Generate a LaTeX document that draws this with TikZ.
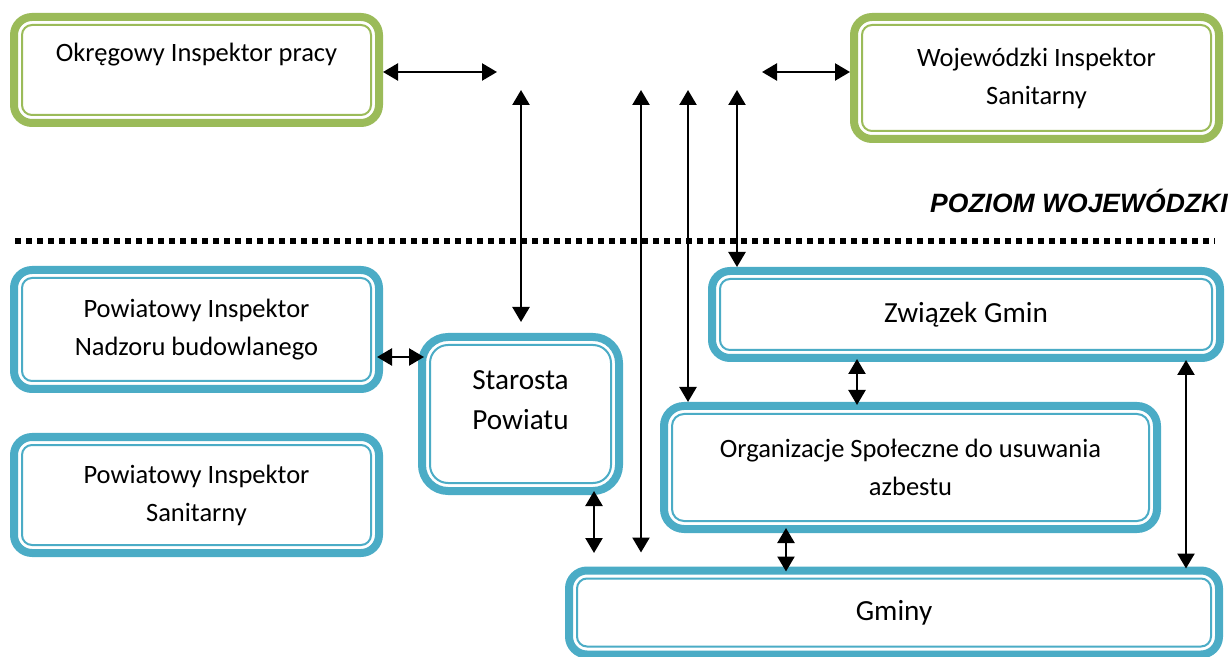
\documentclass[tikz,border=0pt]{standalone}
\usepackage{fontspec}
\setmainfont{Carlito}
\newfontfamily\headfont{Liberation Sans}
\usetikzlibrary{arrows.meta, calc, positioning}
\definecolor{level-green}{HTML}{9BBB59}
\definecolor{level-blue}{HTML}{4BACC6}
\tikzset{
    level box/.style = {draw=#1, fill=white, line width=4pt, outer sep=2pt, inner sep=0pt,
        align=center, font=\fontsize{13.25}{19}\selectfont},
    level box/.default = level-blue,
    big text/.style = {font=\fontsize{14.6}{20}\selectfont},
    link/.style = {line width=1.2pt, {Triangle[length=7.5pt,width=8.5pt]}-{Triangle[length=7.5pt,width=8.5pt]}},
    into/.style = {shorten <=-#1, shorten >=-#1},
    dotline/.style = {line width=3pt, dash pattern=on 3pt off 2.5pt},
    poziom/.style = {font=\headfont\bfseries\itshape\fontsize{13.25}{16}\selectfont, inner sep=0pt},
}
% thin second frame inside a box
\newcommand\innerframe[3]{%
    \draw[#2, line width=1pt, rounded corners=#3]
        ($(#1.south west)+(6pt,6pt)$) rectangle ($(#1.north east)-(6pt,6pt)$);}

\begin{document}
\begin{tikzpicture}[x=0.5pt,y=-0.5pt]
\useasboundingbox (0,0) rectangle (1231,657);

% poziom wojewodzki
\node[level box=level-green, rounded corners=9pt, minimum width=182.5pt, minimum height=53pt, text depth=18pt]
    (okregowy) at (196.5,70) {Okręgowy Inspektor pracy};
\innerframe{okregowy}{level-green}{5pt}
\node[level box=level-green, rounded corners=9pt, minimum width=182.5pt, minimum height=61pt]
    (wojewodzki) at (1036.5,78) {Wojewódzki Inspektor\\Sanitarny};
\innerframe{wojewodzki}{level-green}{5pt}

\node[poziom, anchor=base east] (poziom) at (1228,213) {POZIOM WOJEWÓDZKI};
\draw[dotline] (15,241) -- (1215,241);

% poziom powiatowy i gminny
\node[level box, rounded corners=9pt, minimum width=182.5pt, minimum height=59.5pt]
    (nadzoru) at (196.5,329.5) {Powiatowy Inspektor\\Nadzoru budowlanego};
\innerframe{nadzoru}{level-blue}{5pt}
\node[level box, rounded corners=9pt, minimum width=182.5pt, minimum height=58pt]
    (sanitarny) at (196.5,495) {Powiatowy Inspektor\\Sanitarny};
\innerframe{sanitarny}{level-blue}{5pt}
\node[level box, big text, rounded corners=13pt, minimum width=98.5pt, minimum height=77pt, text depth=14pt]
    (starosta) at (520.5,414) {Starosta\\Powiatu};
\innerframe{starosta}{level-blue}{9pt}
\node[level box, big text, rounded corners=9pt, minimum width=254pt, minimum height=43.5pt]
    (zwiazek) at (966,314.5) {Związek Gmin};
\innerframe{zwiazek}{level-blue}{5pt}
\node[level box, rounded corners=10pt, minimum width=246.5pt, minimum height=61.5pt]
    (organizacje) at (910.5,467.5) {Organizacje Społeczne do usuwania\\azbestu};
\innerframe{organizacje}{level-blue}{6pt}
\node[level box, big text, rounded corners=9pt, minimum width=325pt, minimum height=42pt]
    (gminy) at (894,612.5) {Gminy};
\innerframe{gminy}{level-blue}{5pt}

% connectors
\coordinate (okr-end) at (497,72);
\coordinate (woj-end) at (762,72);
\coordinate (top1) at (521,90);
\coordinate (top2) at (641,90);
\coordinate (top3) at (688,90);
\coordinate (top4) at (737,90);
\coordinate (star-end) at (594,553);

\draw[link] (okregowy.east |- okr-end) -- (okr-end);
\draw[link] (woj-end) -- (woj-end -| wojewodzki.west);
\draw[link, shorten >=5.5pt] (top1) -- (top1 |- starosta.north);
\draw[link, shorten >=7pt] (top2) -- (top2 |- gminy.north);
\draw[link] (top3) -- (top3 |- organizacje.north);
\draw[link] (top4) -- (top4 |- zwiazek.north);

\draw[link, into=3pt] ([yshift=-13.75pt]nadzoru.east) -- ([yshift=-13.75pt]nadzoru.east -| starosta.west);
\draw[link, shorten <=-2pt] (star-end |- starosta.south) -- (star-end);
\draw[link, into=1.5pt] ([xshift=-54.5pt]zwiazek.south) -- ([xshift=-54.5pt]zwiazek.south |- organizacje.north);
\draw[link, into=2.5pt] ([xshift=-62.25pt]organizacje.south) -- ([xshift=-62.25pt]organizacje.south |- gminy.north);
\draw[link, into=1pt] ([xshift=110pt]zwiazek.south) -- ([xshift=110pt]zwiazek.south |- gminy.north);
\end{tikzpicture}
\end{document}
